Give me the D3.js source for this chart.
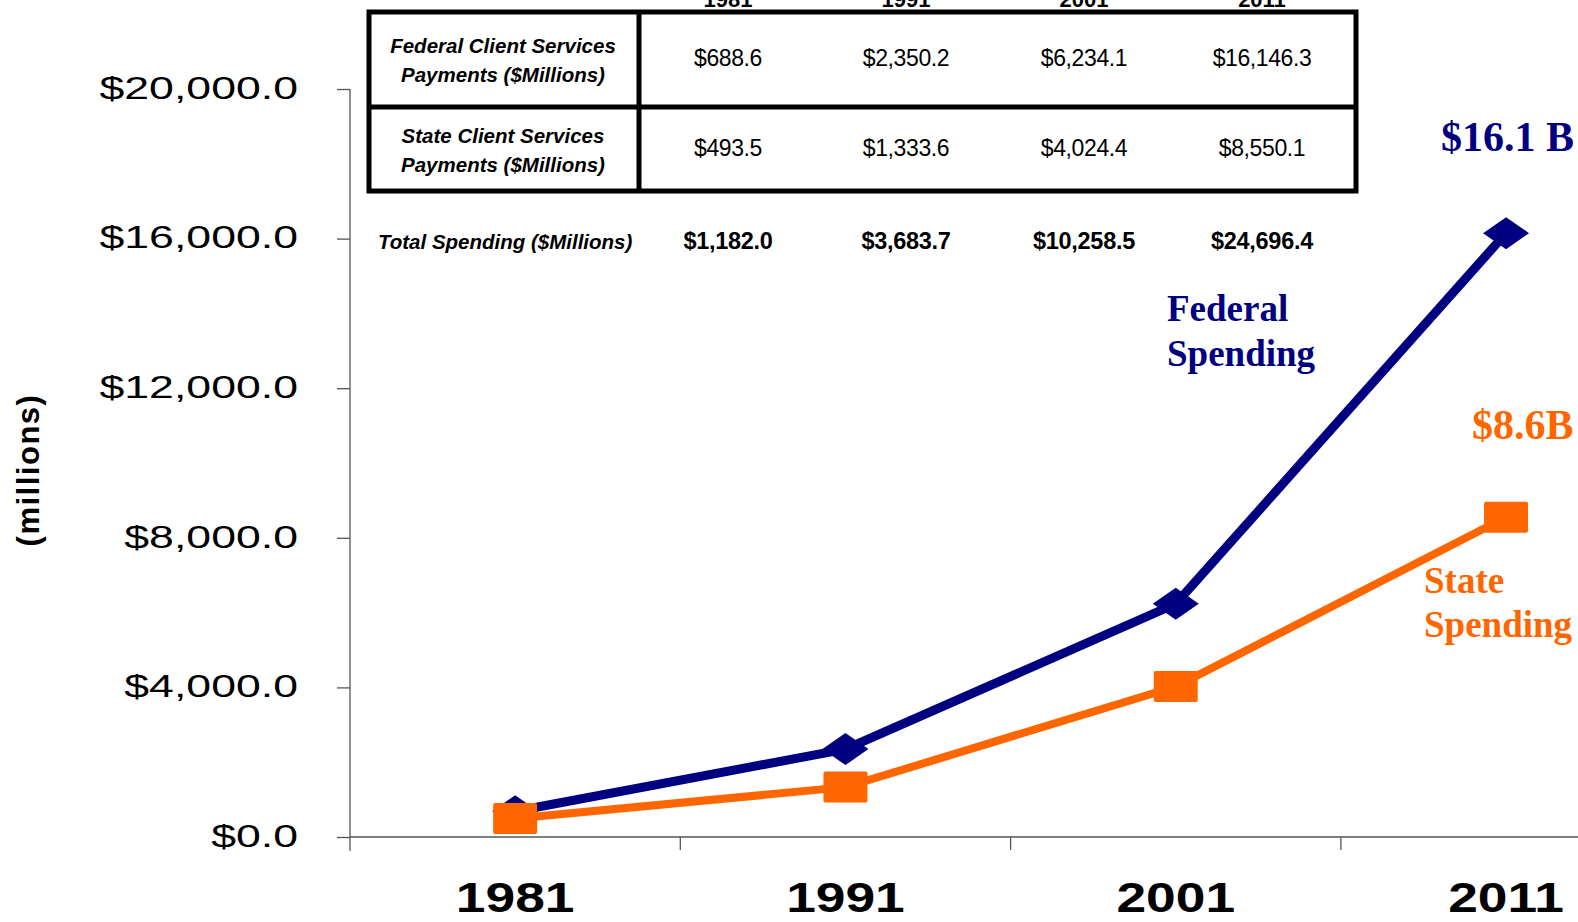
<!DOCTYPE html>
<html>
<head>
<meta charset="utf-8">
<script src="https://cdn.jsdelivr.net/npm/d3@7"></script>
<style>
  body { margin: 0; background: #fff; }
  svg { display: block; }
</style>
</head>
<body>
<svg id="chart" width="1578" height="922"></svg>
<script>
// chart data
const years = ["1981", "1991", "2001", "2011"];
const federal = [688.6, 2350.2, 6234.1, 16146.3];
const state = [493.5, 1333.6, 4024.4, 8550.1];
const totals = [1182.0, 3683.7, 10258.5, 24696.4];
const yTicks = [0, 4000, 8000, 12000, 16000, 20000];
const rowLabels = [
  ["Federal Client Services", "Payments ($Millions)"],
  ["State Client Services", "Payments ($Millions)"]
];
const totalLabel = "Total Spending ($Millions)";
const seriesNames = [["Federal", "Spending"], ["State", "Spending"]];
const endLabels = ["$16.1 B", "$8.6B"];
const yTitle = "(millions)";

const navy = "#000080";
const orange = "#ff6600";

const svg = d3.select("#chart");
const money = d => "$" + d3.format(",.1f")(d);

const x0 = 350, yBase = 837;

const xScale = d3.scaleBand()
  .domain(years)
  .range([x0, x0 + 4 * 330.3])
  .padding(0);

const yScale = d3.scaleLinear()
  .domain([0, 20000])
  .range([yBase, 89]);

const cx = d => xScale(d) + xScale.bandwidth() / 2;

// y axis
const yAxis = svg.append("g")
  .attr("transform", `translate(${x0},0)`)
  .call(d3.axisLeft(yScale).tickValues(yTicks).tickSize(13).tickSizeOuter(0).tickFormat(money));
yAxis.select(".domain").remove();
yAxis.selectAll(".tick line").attr("stroke", "#555").attr("stroke-width", 1.3);
yAxis.selectAll(".tick text")
  .attr("font-family", "Liberation Sans, Arial, sans-serif")
  .attr("font-size", 31)
  .attr("fill", "#000")
  .attr("dy", "0.3em")
  .attr("x", -52 / 1.44)
  .attr("transform", "scale(1.44,1)");

svg.append("line")
  .attr("x1", x0).attr("x2", x0)
  .attr("y1", yScale(20000)).attr("y2", yBase + 14)
  .attr("stroke", "#555").attr("stroke-width", 1.3);

// x axis
svg.append("line")
  .attr("x1", x0).attr("x2", xScale.range()[1])
  .attr("y1", yBase).attr("y2", yBase)
  .attr("stroke", "#555").attr("stroke-width", 1.3);

svg.append("g").selectAll("line")
  .data(years.slice(1))
  .join("line")
  .attr("x1", d => xScale(d)).attr("x2", d => xScale(d))
  .attr("y1", yBase).attr("y2", yBase + 13)
  .attr("stroke", "#555").attr("stroke-width", 1.3);

const xAxis = svg.append("g")
  .attr("transform", `translate(0,${yBase})`)
  .call(d3.axisBottom(xScale).tickSize(0));
xAxis.select(".domain").remove();
xAxis.selectAll(".tick text")
  .attr("font-family", "Liberation Sans, Arial, sans-serif")
  .attr("font-weight", "bold")
  .attr("font-size", 42)
  .attr("fill", "#000")
  .attr("y", 75)
  .attr("dy", 0)
  .attr("transform", "scale(1.27,1)");

// y title
svg.append("text")
  .attr("transform", "translate(39,470) rotate(-90)")
  .attr("text-anchor", "middle")
  .attr("font-family", "Liberation Sans, Arial, sans-serif")
  .attr("font-weight", "bold")
  .attr("font-size", 31)
  .attr("letter-spacing", 1.5)
  .text(yTitle);

// lines and markers
const fedData = years.map((y, i) => ({ year: y, value: federal[i] }));
const stateData = years.map((y, i) => ({ year: y, value: state[i] }));

const line = d3.line()
  .x(d => cx(d.year))
  .y(d => yScale(d.value));

svg.append("path")
  .datum(fedData)
  .attr("fill", "none")
  .attr("stroke", navy)
  .attr("stroke-width", 9)
  .attr("d", line);

svg.append("g").selectAll("path")
  .data(fedData)
  .join("path")
  .attr("fill", navy)
  .attr("transform", d => `translate(${cx(d.year)},${yScale(d.value)})`)
  .attr("d", "M-23,0L0,-16L23,0L0,16Z");

svg.append("path")
  .datum(stateData)
  .attr("fill", "none")
  .attr("stroke", orange)
  .attr("stroke-width", 8)
  .attr("d", line);

svg.append("g").selectAll("rect")
  .data(stateData)
  .join("rect")
  .attr("fill", orange)
  .attr("x", d => cx(d.year) - 22)
  .attr("y", d => yScale(d.value) - 15.5)
  .attr("width", 44)
  .attr("height", 31)
  .attr("rx", 2);

// annotations
const serif = "Liberation Serif, Times New Roman, serif";
svg.append("text")
  .attr("x", 1441).attr("y", 151)
  .attr("font-family", serif).attr("font-weight", "bold").attr("font-size", 42)
  .attr("fill", navy).text(endLabels[0]);
svg.append("text")
  .attr("x", 1472).attr("y", 439)
  .attr("font-family", serif).attr("font-weight", "bold").attr("font-size", 42)
  .attr("fill", orange).text(endLabels[1]);

const fedName = svg.append("text")
  .attr("font-family", serif).attr("font-weight", "bold").attr("font-size", 37)
  .attr("fill", navy);
fedName.selectAll("tspan").data(seriesNames[0]).join("tspan")
  .attr("x", 1167).attr("y", (d, i) => 321 + i * 45).text(d => d);

const stateName = svg.append("text")
  .attr("font-family", serif).attr("font-weight", "bold").attr("font-size", 37)
  .attr("fill", orange);
stateName.selectAll("tspan").data(seriesNames[1]).join("tspan")
  .attr("x", 1424).attr("y", (d, i) => 593 + i * 44).text(d => d);

// table
const sans = "Liberation Sans, Arial, sans-serif";
const colX = years.map((d, i) => 728 + i * 178);
const table = svg.append("g");

table.selectAll(".yr")
  .data(years)
  .join("text")
  .attr("class", "yr")
  .attr("x", (d, i) => colX[i]).attr("y", 7)
  .attr("text-anchor", "middle")
  .attr("font-family", sans).attr("font-weight", "bold").attr("font-size", 22)
  .text(d => d);

table.append("rect")
  .attr("x", 369).attr("y", 12)
  .attr("width", 987).attr("height", 179)
  .attr("fill", "none").attr("stroke", "#000").attr("stroke-width", 5);
table.append("line")
  .attr("x1", 369).attr("x2", 1356).attr("y1", 107).attr("y2", 107)
  .attr("stroke", "#000").attr("stroke-width", 5);
table.append("line")
  .attr("x1", 639).attr("x2", 639).attr("y1", 12).attr("y2", 191)
  .attr("stroke", "#000").attr("stroke-width", 5);

const rowY = [58, 148];
rowLabels.forEach((lbl, r) => {
  const t = table.append("text")
    .attr("text-anchor", "middle")
    .attr("font-family", sans).attr("font-weight", "bold").attr("font-style", "italic")
    .attr("font-size", 20.5);
  t.selectAll("tspan").data(lbl).join("tspan")
    .attr("x", 503).attr("y", (d, i) => rowY[r] - 5 + i * 29).text(d => d);
});

[federal, state].forEach((vals, r) => {
  table.selectAll(null)
    .data(vals)
    .join("text")
    .attr("x", (d, i) => colX[i]).attr("y", rowY[r] + 8)
    .attr("text-anchor", "middle")
    .attr("font-family", sans).attr("font-size", 23).attr("letter-spacing", -0.4)
    .text(money);
});

table.append("text")
  .attr("x", 378).attr("y", 249)
  .attr("font-family", sans).attr("font-weight", "bold").attr("font-style", "italic")
  .attr("font-size", 20.5)
  .text(totalLabel);

table.selectAll(null)
  .data(totals)
  .join("text")
  .attr("x", (d, i) => colX[i]).attr("y", 249)
  .attr("text-anchor", "middle")
  .attr("font-family", sans).attr("font-weight", "bold").attr("font-size", 23.5)
  .attr("letter-spacing", -0.3)
  .text(money);
</script>
</body>
</html>
